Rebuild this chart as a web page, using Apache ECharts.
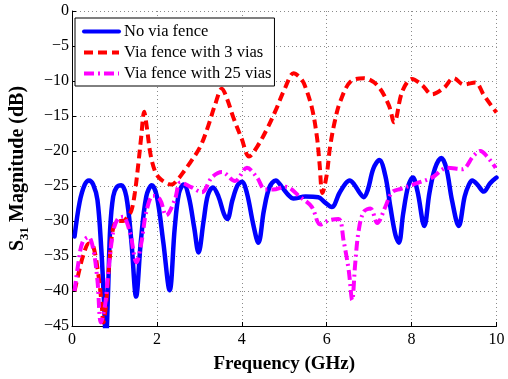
<!DOCTYPE html>
<html>
<head>
<meta charset="utf-8">
<script src="https://cdn.jsdelivr.net/npm/echarts@6/dist/echarts.min.js"></script>
<style>
  html, body { margin: 0; padding: 0; background: #fff; }
  #chart { width: 508px; height: 379px; }
</style>
</head>
<body>
<div id="chart"></div>
<script>
// Frequency axis ticks (GHz) and magnitude ticks (dB)
const freqTicks = [0, 2, 4, 6, 8, 10];
const magTicks = [0, -5, -10, -15, -20, -25, -30, -35, -40, -45];

const seriesNames = ['No via fence', 'Via fence with 3 vias', 'Via fence with 25 vias'];

// No via fence
const noFenceFreq = [0.06, 0.18, 0.3, 0.4, 0.5, 0.6, 0.69, 0.75, 0.8, 0.85, 0.9, 0.97, 1.05, 1.16, 1.28, 1.4, 1.51, 1.62, 1.75, 1.88, 2.0, 2.15, 2.3, 2.42, 2.52, 2.63, 2.75, 2.88, 2.98, 3.1, 3.2, 3.32, 3.45, 3.58, 3.66, 3.78, 3.9, 4.0, 4.12, 4.27, 4.39, 4.52, 4.65, 4.8, 4.95, 5.1, 5.21, 5.5, 5.8, 5.95, 6.12, 6.3, 6.45, 6.54, 6.65, 6.78, 6.87, 6.97, 7.1, 7.24, 7.38, 7.5, 7.62, 7.7, 7.8, 7.92, 8.03, 8.14, 8.3, 8.42, 8.55, 8.7, 8.82, 8.95, 9.11, 9.25, 9.35, 9.43, 9.55, 9.7, 9.85, 10.0];
const noFenceMag = [-32.2, -27.3, -24.8, -24.2, -24.8, -27.0, -34.0, -41.0, -47.0, -40.0, -31.0, -26.5, -25.2, -24.9, -26.5, -33.0, -40.8, -33.0, -26.5, -24.9, -26.5, -33.0, -39.9, -31.0, -26.0, -24.8, -26.5, -31.0, -34.5, -30.0, -26.3, -25.2, -26.5, -29.0, -29.7, -27.0, -24.9, -24.4, -26.0, -30.5, -33.1, -28.5, -25.2, -24.2, -25.2, -26.3, -26.8, -26.5, -26.6, -27.3, -28.0, -26.0, -24.6, -24.2, -24.8, -26.0, -26.6, -25.5, -22.5, -21.3, -23.5, -28.0, -32.0, -33.1, -29.0, -25.0, -23.8, -25.8, -30.7, -26.0, -22.5, -21.0, -22.5, -27.0, -30.7, -26.5, -24.8, -24.2, -24.8, -25.8, -24.6, -23.8];

// Via fence with 3 vias
const fence3Freq = [0.06, 0.15, 0.27, 0.4, 0.5, 0.62, 0.7, 0.74, 0.8, 0.88, 0.97, 1.08, 1.2, 1.32, 1.4, 1.48, 1.56, 1.63, 1.7, 1.76, 1.85, 1.95, 2.05, 2.2, 2.34, 2.5, 2.65, 2.78, 3.02, 3.21, 3.37, 3.53, 3.65, 3.8, 4.0, 4.17, 4.36, 4.59, 4.79, 5.02, 5.22, 5.35, 5.46, 5.65, 5.77, 5.83, 5.9, 6.0, 6.08, 6.2, 6.32, 6.56, 6.87, 7.19, 7.46, 7.59, 7.78, 8.01, 8.25, 8.48, 8.76, 8.99, 9.23, 9.5, 9.7, 9.9, 10.0];
const fence3Mag = [-40.0, -37.6, -34.8, -33.2, -33.6, -37.6, -42.0, -44.5, -42.0, -36.0, -31.0, -30.0, -30.0, -29.3, -28.5, -26.0, -22.0, -18.0, -14.4, -16.5, -20.5, -22.8, -23.8, -24.5, -24.8, -24.0, -22.8, -21.7, -19.4, -16.4, -13.4, -11.1, -12.5, -15.2, -18.3, -20.8, -19.4, -16.9, -14.3, -11.0, -8.9, -9.4, -10.3, -13.8, -18.0, -21.7, -26.0, -23.4, -19.4, -15.5, -12.9, -10.1, -9.6, -10.6, -13.4, -15.9, -11.5, -9.7, -10.6, -11.9, -11.0, -9.6, -10.5, -10.2, -12.0, -13.7, -14.5];

// Via fence with 25 vias
const fence25Freq = [0.06, 0.15, 0.25, 0.39, 0.5, 0.6, 0.68, 0.78, 0.85, 0.97, 1.08, 1.2, 1.36, 1.52, 1.64, 1.75, 1.91, 2.07, 2.22, 2.42, 2.56, 2.82, 3.06, 3.29, 3.53, 3.84, 4.12, 4.36, 4.55, 4.74, 5.02, 5.38, 5.65, 5.85, 6.05, 6.28, 6.4, 6.52, 6.6, 6.67, 6.75, 6.87, 7.03, 7.19, 7.38, 7.54, 7.75, 8.13, 8.48, 8.84, 9.19, 9.46, 9.62, 9.78, 9.98];
const fence25Mag = [-40.0, -36.0, -33.0, -32.3, -34.0, -38.5, -44.5, -42.0, -37.6, -31.5, -29.7, -29.4, -31.5, -35.9, -32.9, -28.7, -26.4, -26.9, -29.2, -27.0, -24.5, -25.2, -25.9, -23.8, -23.0, -24.3, -22.4, -23.8, -25.5, -25.5, -25.1, -26.6, -28.0, -30.5, -29.9, -29.7, -32.9, -37.1, -41.3, -36.2, -31.5, -28.7, -28.2, -30.3, -28.0, -25.9, -25.4, -24.6, -23.8, -22.4, -22.6, -20.7, -20.0, -20.8, -22.4];

const pairs = (xs, ys) => xs.map((x, i) => [x, ys[i]]);
const serif = '"Liberation Serif", "DejaVu Serif", serif';
const minusSign = v => String(v).replace('-', '\u2212');

const chart = echarts.init(document.getElementById('chart'), null, { renderer: 'canvas' });

const gridLine = { show: true, lineStyle: { color: '#8a8a8a', width: 1, type: [1, 3] } };

chart.setOption({
  animation: false,
  backgroundColor: '#ffffff',
  grid: { left: 72, right: 11.5, top: 11, bottom: 45, containLabel: false },
  legend: {
    data: seriesNames,
    orient: 'vertical',
    left: 75,
    top: 18,
    padding: [5, 3, 4, 7],
    itemWidth: 35,
    itemHeight: 14,
    itemGap: 4,
    backgroundColor: '#ffffff',
    borderColor: '#000000',
    borderWidth: 1,
    borderRadius: 0,
    textStyle: { fontFamily: serif, fontSize: 16.5, lineHeight: 16.5, color: '#000000', padding: [0, 0, 0, 0] },
    lineStyle: { width: 4 },
    itemStyle: { opacity: 0 }
  },
  xAxis: {
    type: 'value',
    min: freqTicks[0],
    max: freqTicks[freqTicks.length - 1],
    interval: freqTicks[1] - freqTicks[0],
    name: 'Frequency (GHz)',
    nameLocation: 'middle',
    nameGap: 29,
    nameTextStyle: { fontFamily: serif, fontSize: 19, fontWeight: 'bold', color: '#000000' },
    axisLine: { show: true, onZero: false, lineStyle: { color: '#000000', width: 1 } },
    axisTick: { show: true, inside: true, length: 4, lineStyle: { color: '#000000' } },
    axisLabel: { fontFamily: serif, fontSize: 16, color: '#000000', margin: 6 },
    splitLine: gridLine
  },
  yAxis: {
    type: 'value',
    min: magTicks[magTicks.length - 1],
    max: magTicks[0],
    interval: magTicks[0] - magTicks[1],
    name: '{b|S}{s|31}{b| Magnitude (dB)}',
    nameLocation: 'middle',
    nameGap: 41,
    nameRotate: 90,
    nameTextStyle: {
      color: '#000000',
      rich: {
        b: { fontFamily: serif, fontSize: 20, fontWeight: 'bold', lineHeight: 26, color: '#000000' },
        s: { fontFamily: serif, fontSize: 13, fontWeight: 'bold', lineHeight: 13, verticalAlign: 'bottom', color: '#000000' }
      }
    },
    axisLine: { show: true, onZero: false, lineStyle: { color: '#000000', width: 1 } },
    axisTick: { show: true, inside: true, length: 4, lineStyle: { color: '#000000' } },
    axisLabel: { fontFamily: serif, fontSize: 16, color: '#000000', margin: 3, formatter: minusSign },
    splitLine: gridLine
  },
  series: [
    {
      name: seriesNames[0],
      type: 'line',
      data: pairs(noFenceFreq, noFenceMag),
      symbol: 'none',
      smooth: 0.35,
      clip: true,
      lineStyle: { color: '#0000ff', width: 4.5, type: 'solid', cap: 'round', join: 'round' },
      itemStyle: { color: '#0000ff' },
      z: 2
    },
    {
      name: seriesNames[1],
      type: 'line',
      data: pairs(fence3Freq, fence3Mag),
      symbol: 'none',
      smooth: 0.35,
      clip: true,
      lineStyle: { color: '#ff0000', width: 4, type: [9, 5], cap: 'butt' },
      itemStyle: { color: '#ff0000' },
      z: 3
    },
    {
      name: seriesNames[2],
      type: 'line',
      data: pairs(fence25Freq, fence25Mag),
      symbol: 'none',
      smooth: 0.35,
      clip: true,
      lineStyle: { color: '#ff00ff', width: 4, type: [10, 4, 2, 4], cap: 'butt' },
      itemStyle: { color: '#ff00ff' },
      z: 4
    }
  ]
});
</script>
</body>
</html>
